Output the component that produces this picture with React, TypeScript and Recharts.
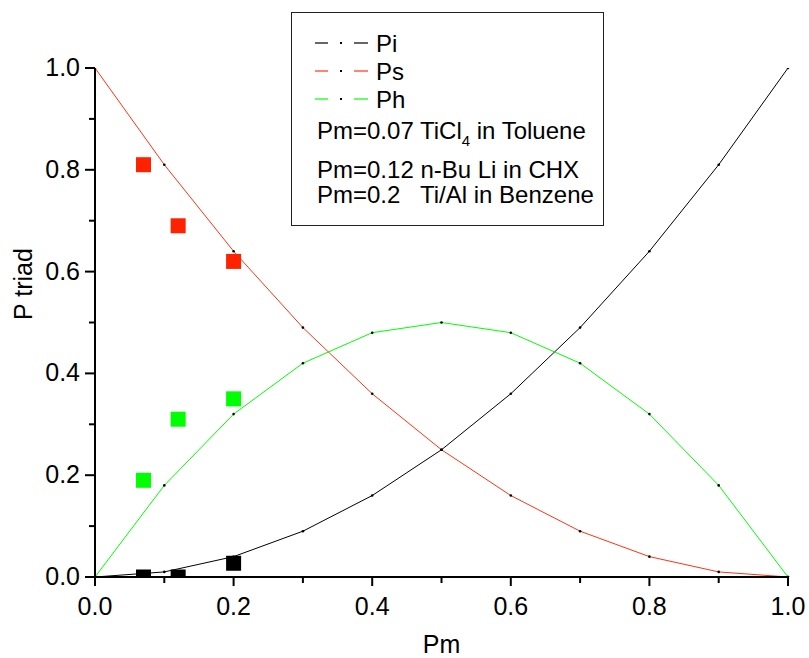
import { ComposedChart, Line, Scatter, XAxis, YAxis, Legend, Label } from "recharts";

const pmGrid = [0, 0.1, 0.2, 0.3, 0.4, 0.5, 0.6, 0.7, 0.8, 0.9, 1.0];
const piValues = [0, 0.01, 0.04, 0.09, 0.16, 0.25, 0.36, 0.49, 0.64, 0.81, 1.0];
const psValues = [1.0, 0.81, 0.64, 0.49, 0.36, 0.25, 0.16, 0.09, 0.04, 0.01, 0];
const phValues = [0, 0.18, 0.32, 0.42, 0.48, 0.5, 0.48, 0.42, 0.32, 0.18, 0];

// measured triads: TiCl4/toluene, n-BuLi/CHX, Ti/Al/benzene
const expPm = [0.07, 0.12, 0.2];
const expPi = [0, 0, 0.027];
const expPs = [0.81, 0.69, 0.62];
const expPh = [0.19, 0.31, 0.35];

const axisTicks = [0, 0.1, 0.2, 0.3, 0.4, 0.5, 0.6, 0.7, 0.8, 0.9, 1.0];
const majorLabels = ["0.0", "0.2", "0.4", "0.6", "0.8", "1.0"];

const FONT = "'Liberation Sans', Arial, sans-serif";
const RED = "#ff3311";
const RED_SQ = "#ff2200";
const GREEN = "#00ff00";

const lineSeries = [
  { name: "Pi", color: "#000000" },
  { name: "Ps", color: RED },
  { name: "Ph", color: GREEN },
];

const toRows = (ys: number[]) => pmGrid.map((pm, i) => ({ pm, p: ys[i] }));
const toExp = (ys: number[]) => expPm.map((pm, i) => ({ pm, p: ys[i] }));

const isMajor = (v: number) => Math.round(v * 10) % 2 === 0;
const labelFor = (v: number) => majorLabels[Math.round(v * 5)];

function XTick(props: any) {
  const { x, y, payload } = props;
  const major = isMajor(payload.value);
  return (
    <g>
      <line x1={x} x2={x} y1={y} y2={y + (major ? 9 : 6)} stroke="#000" strokeWidth={2} />
      {major && (
        <text x={x} y={y + 38} textAnchor="middle" fontSize={25} fontFamily={FONT} fill="#000">
          {labelFor(payload.value)}
        </text>
      )}
    </g>
  );
}

function YTick(props: any) {
  const { x, y, payload } = props;
  const major = isMajor(payload.value);
  return (
    <g>
      <line x1={x - (major ? 10 : 6)} x2={x} y1={y} y2={y} stroke="#000" strokeWidth={2} />
      {major && (
        <text x={x - 15} y={y + 8} textAnchor="end" fontSize={25} fontFamily={FONT} fill="#000">
          {labelFor(payload.value)}
        </text>
      )}
    </g>
  );
}

const Square = (fill: string) => (props: any) => {
  const { cx, cy } = props;
  return <rect x={cx - 7.5} y={cy - 7.5} width={15} height={15} fill={fill} />;
};

const smallDot = { r: 1.3, fill: "#000", stroke: "none" };

function LegendBox() {
  const txt = { fontSize: 24, fontFamily: FONT, fill: "#000" };
  return (
    <svg width={313} height={214} style={{ display: "block" }}>
      <rect x={0.5} y={0.5} width={312} height={213} fill="#fff" stroke="#222" strokeWidth={1} />
      {lineSeries.map((s, i) => {
        const y = 31 + i * 28;
        return (
          <g key={s.name}>
            <line x1={24} x2={37} y1={y} y2={y} stroke={s.color} strokeWidth={1.2} />
            <rect x={49} y={y - 1} width={2} height={2} fill="#000" />
            <line x1={63} x2={77} y1={y} y2={y} stroke={s.color} strokeWidth={1.2} />
            <text x={85} y={y + 9} {...txt}>{s.name}</text>
          </g>
        );
      })}
      <text x={26} y={127} {...txt}>
        Pm=0.07 TiCl<tspan dy={7} fontSize={15}>4</tspan><tspan dy={-7}> in Toluene</tspan>
      </text>
      <text x={26} y={166} {...txt}>Pm=0.12 n-Bu Li in CHX</text>
      <text x={26} y={191} {...txt} xmlSpace="preserve">Pm=0.2   Ti/Al in Benzene</text>
    </svg>
  );
}

export default function App() {
  return (
    <div style={{ width: 809, height: 658, background: "#fff" }}>
      <style>{`body{margin:0}`}</style>
      <ComposedChart width={809} height={658} margin={{ top: 68, right: 21, bottom: 0, left: 0 }}>
        <XAxis
          dataKey="pm"
          type="number"
          domain={[0, 1]}
          ticks={axisTicks}
          height={81}
          tickSize={0}
          tickMargin={0}
          tickLine={false}
          interval={0}
          axisLine={{ stroke: "#000", strokeWidth: 2 }}
          tick={<XTick />}
        >
          <Label
            value="Pm"
            position="insideBottom"
            offset={5}
            style={{ fontSize: 25, fontFamily: FONT, fill: "#000" }}
          />
        </XAxis>
        <YAxis
          dataKey="p"
          type="number"
          domain={[0, 1]}
          allowDataOverflow
          ticks={axisTicks}
          width={95}
          tickSize={0}
          tickMargin={0}
          tickLine={false}
          interval={0}
          axisLine={{ stroke: "#000", strokeWidth: 2 }}
          tick={<YTick />}
        >
          <Label
            content={() => (
              <text
                transform="translate(32,284) rotate(-90)"
                textAnchor="middle"
                fontSize={25}
                fontFamily={FONT}
                fill="#000"
              >
                P triad
              </text>
            )}
          />
        </YAxis>
        <Legend
          layout="vertical"
          align="center"
          verticalAlign="middle"
          wrapperStyle={{ left: 291, top: 12, width: 313, height: 214 }}
          content={() => <LegendBox />}
        />
        <Line data={toRows(piValues)} dataKey="p" name="Pi" stroke="#000" strokeWidth={1} dot={smallDot} activeDot={false} isAnimationActive={false} />
        <Line data={toRows(psValues)} dataKey="p" name="Ps" stroke={RED} strokeWidth={1} dot={smallDot} activeDot={false} isAnimationActive={false} />
        <Line data={toRows(phValues)} dataKey="p" name="Ph" stroke={GREEN} strokeWidth={1} dot={smallDot} activeDot={false} isAnimationActive={false} />
        <Scatter data={toExp(expPs)} dataKey="p" shape={Square(RED_SQ)} isAnimationActive={false} />
        <Scatter data={toExp(expPh)} dataKey="p" shape={Square(GREEN)} isAnimationActive={false} />
        <Scatter data={toExp(expPi)} dataKey="p" shape={Square("#000")} isAnimationActive={false} />
      </ComposedChart>
    </div>
  );
}
